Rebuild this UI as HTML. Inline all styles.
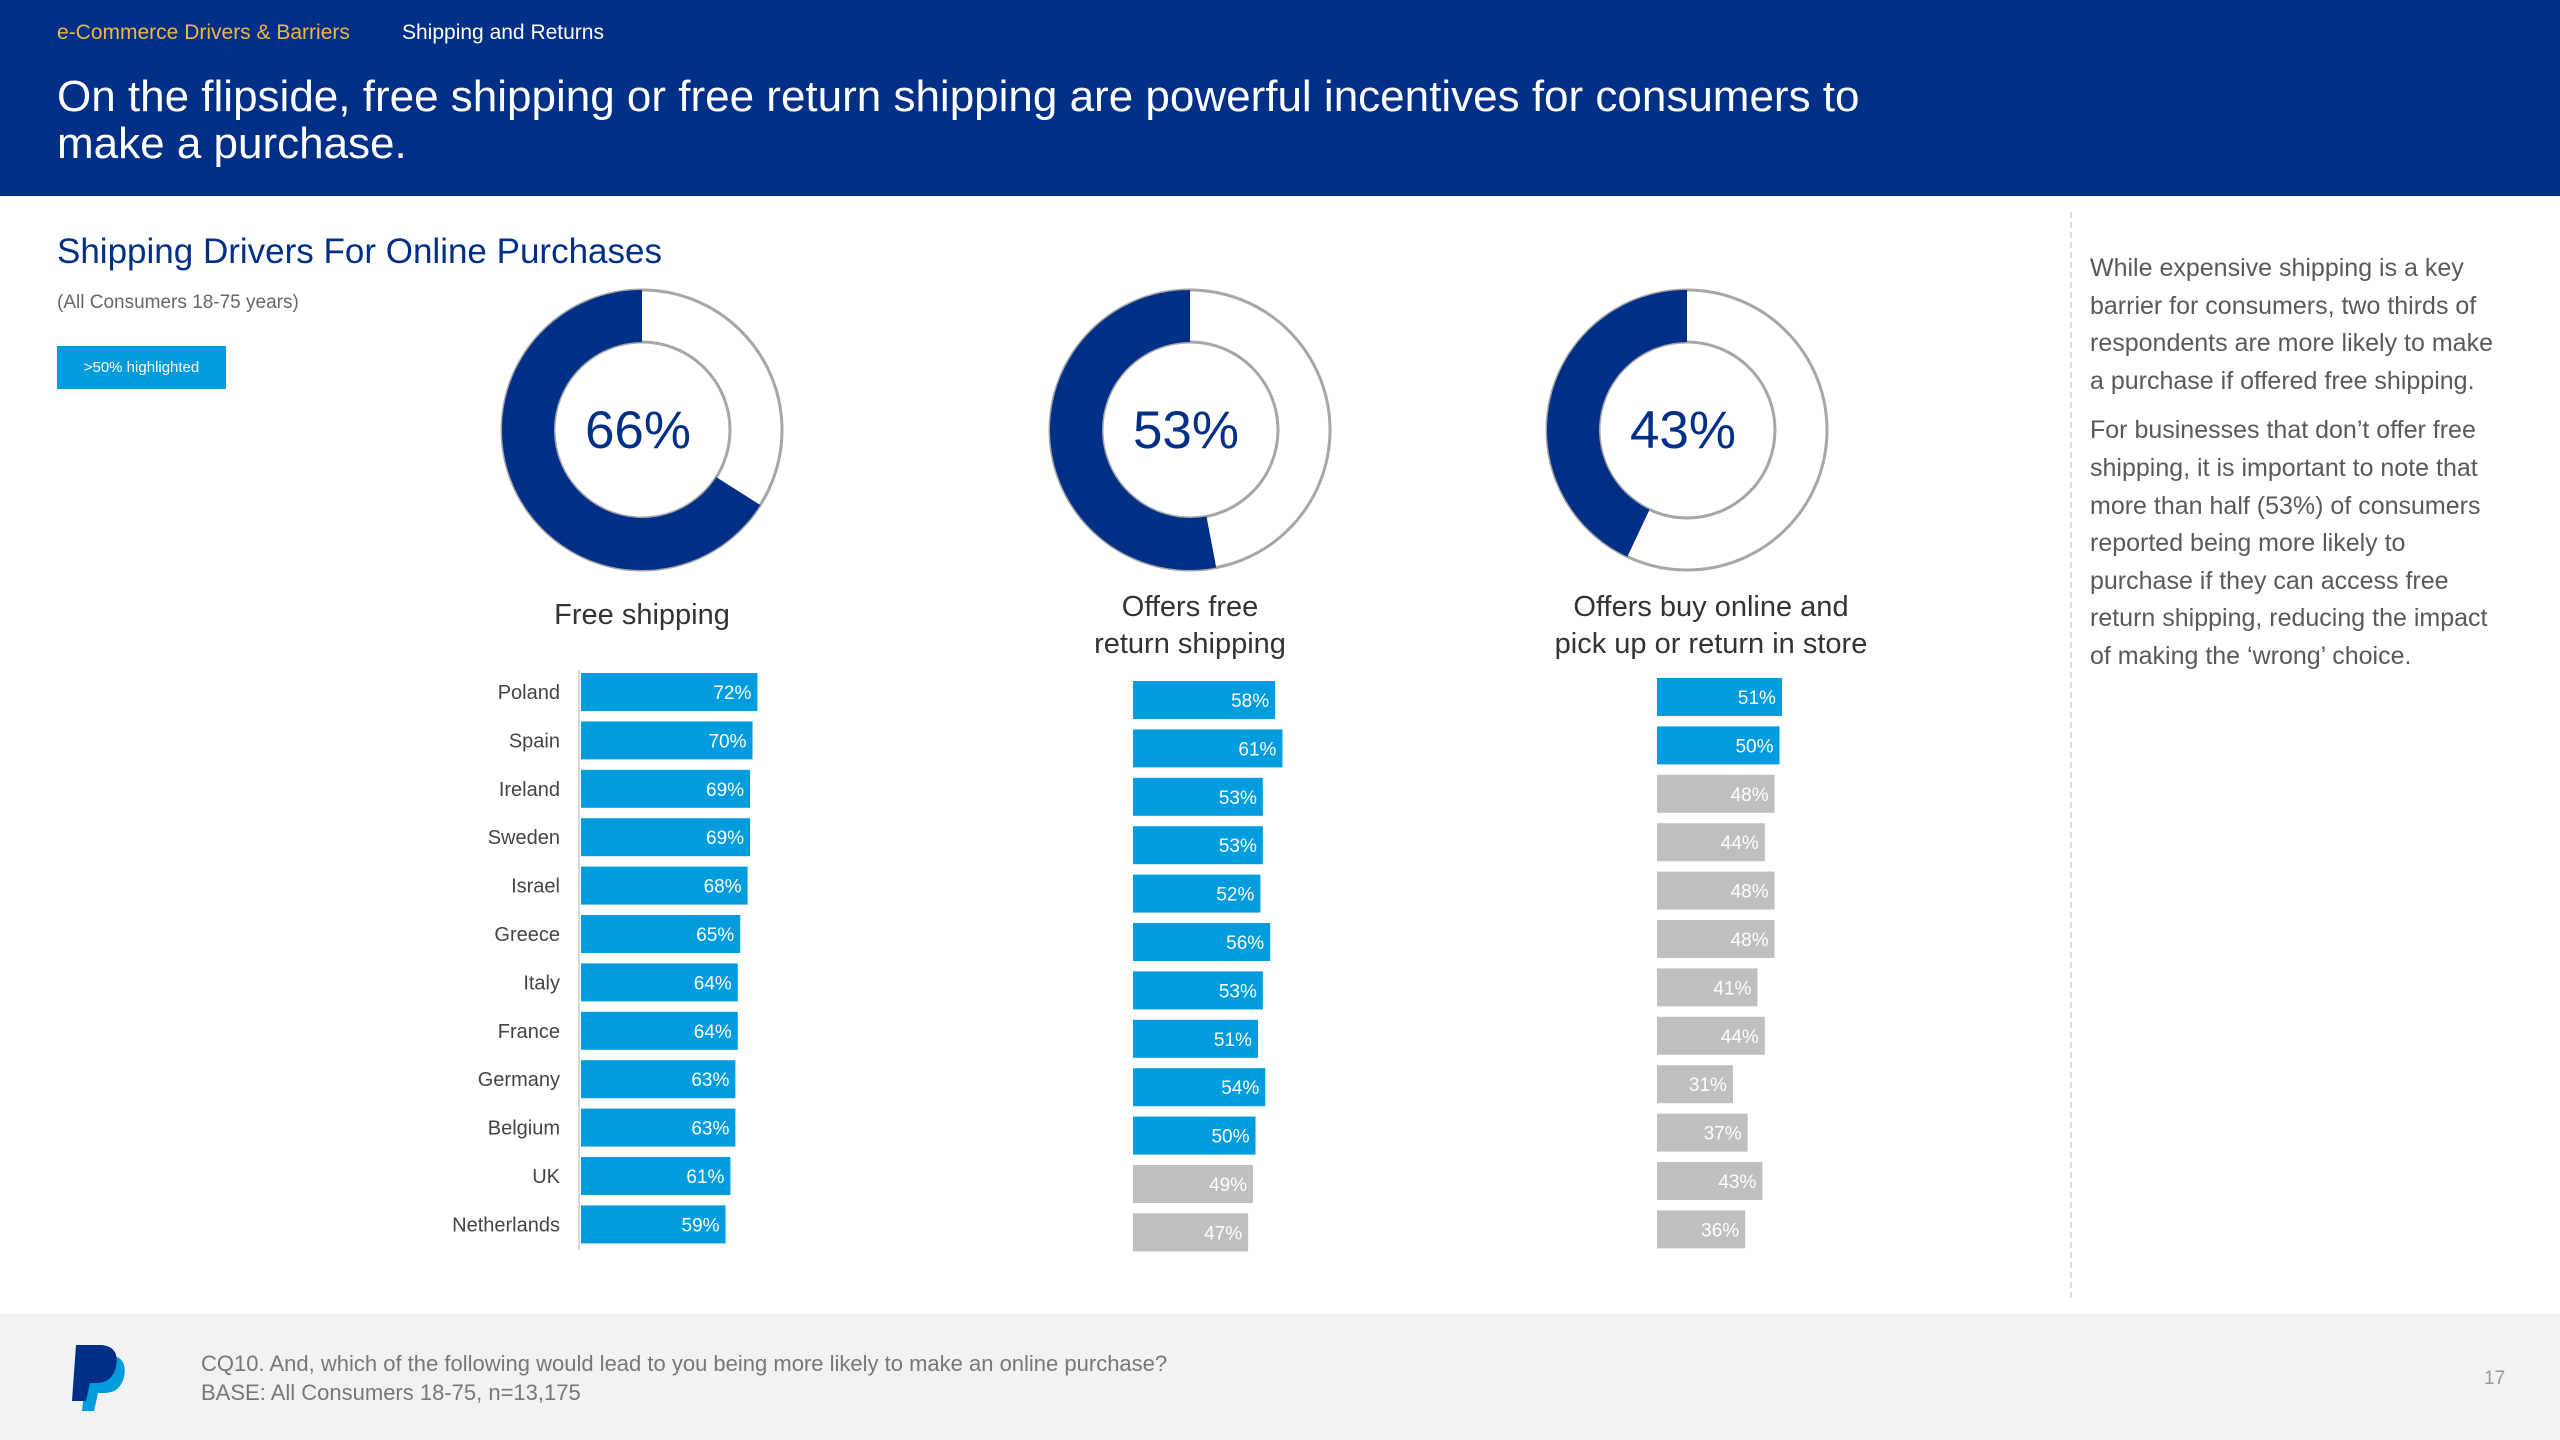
<!DOCTYPE html>
<html><head><meta charset="utf-8">
<style>
body{margin:0;width:2560px;height:1440px;position:relative;overflow:hidden;background:#fff;font-family:"Liberation Sans",sans-serif;}
.abs{position:absolute;}
</style></head>
<body>
<div class="abs" style="left:0;top:0;width:2560px;height:196px;background:#002f87;"></div>
<div class="abs" style="left:57px;top:21px;font-size:21px;color:#f0b840;">e-Commerce Drivers &amp; Barriers</div>
<div class="abs" style="left:402px;top:21px;font-size:21px;color:#fff;">Shipping and Returns</div>
<div class="abs" style="left:57px;top:73px;font-size:44px;line-height:47px;color:#fff;width:2000px;">On the flipside, free shipping or free return shipping are powerful incentives for consumers to<br>make a purchase.</div>
<div class="abs" style="left:57px;top:232px;font-size:35px;color:#002f87;">Shipping Drivers For Online Purchases</div>
<div class="abs" style="left:57px;top:292px;font-size:19px;color:#666;">(All Consumers 18-75 years)</div>
<div class="abs" style="left:57px;top:346px;width:169px;height:43px;background:#009cde;color:#fff;font-size:15px;line-height:43px;text-align:center;">&gt;50% highlighted</div>

<svg class="abs" style="left:0;top:0" width="2560" height="1440" id="svg"></svg>

<div class="abs" style="left:2070px;top:212px;height:1086px;border-left:2px dashed #ddd;"></div>
<div class="abs" style="left:2090px;top:250px;font-size:25px;line-height:37.6px;color:#595959;width:460px;">
<p style="margin:0 0 12px 0">While expensive shipping is a key<br>barrier for consumers, two thirds of<br>respondents are more likely to make<br>a purchase if offered free shipping.</p>
<p style="margin:0">For businesses that don’t offer free<br>shipping, it is important to note that<br>more than half (53%) of consumers<br>reported being more likely to<br>purchase if they can access free<br>return shipping, reducing the impact<br>of making the ‘wrong’ choice.</p>
</div>

<div class="abs" style="left:0;top:1314px;width:2560px;height:126px;background:#f2f2f2;"></div>
<svg class="abs" style="left:70px;top:1345px" width="62" height="68" viewBox="0 0 62 68">
<path d="M18 10 L40 10 Q58 12 54 32 Q50 48 34 48 L28 48 L24 66 L12 66 Z" fill="#009cde"/>
<path d="M6 0 L32 0 Q50 2 46 22 Q42 38 26 38 L20 38 L16 56 L2 56 Z" fill="#002f87"/>
</svg>
<div class="abs" style="left:201px;top:1349px;font-size:22px;line-height:29px;color:#777;">CQ10. And, which of the following would lead to you being more likely to make an online purchase?<br>BASE: All Consumers 18-75, n=13,175</div>
<div class="abs" style="left:2484px;top:1368px;font-size:19px;color:#999;">17</div>

<script>
const countries = ["Poland","Spain","Ireland","Sweden","Israel","Greece","Italy","France","Germany","Belgium","UK","Netherlands"];
const freeShipping = [72,70,69,69,68,65,64,64,63,63,61,59];
const freeReturn = [58,61,53,53,52,56,53,51,54,50,49,47];
const bopis = [51,50,48,44,48,48,41,44,31,37,43,36];
const totals = [66,53,43];
const donutLabels = [["Free shipping"],["Offers free","return shipping"],["Offers buy online and","pick up or return in store"]];

const NS="http://www.w3.org/2000/svg";
const svg=document.getElementById('svg');
function el(tag,attrs,parent){const e=document.createElementNS(NS,tag);for(const k in attrs)e.setAttribute(k,attrs[k]);(parent||svg).appendChild(e);return e;}
const pxPerPct=2.45;
const xScale=(v)=>v*pxPerPct;
const rowY=(i,y0)=>y0+i*48.4;

const donutCx=[642,1190,1687], donutCy=430, R=140, r=88;
const labelCx=[642,1190,1711];
totals.forEach((t,k)=>{
  const g=el('g',{});
  
  
  const cx=donutCx[k];
  el('circle',{cx:cx,cy:donutCy,r:R,fill:'none',stroke:'#a6a6a6','stroke-width':3},g);
  el('circle',{cx:cx,cy:donutCy,r:r,fill:'none',stroke:'#a6a6a6','stroke-width':3},g);
  const a=t/100*2*Math.PI;
  const large=t>50?1:0;
  const ox=cx-R*Math.sin(a), oy=donutCy-R*Math.cos(a);
  const ix=cx-r*Math.sin(a), iy=donutCy-r*Math.cos(a);
  const p=el('path',{d:`M${cx} ${donutCy-R} A${R} ${R} 0 ${large} 0 ${ox} ${oy} L${ix} ${iy} A${r} ${r} 0 ${large} 1 ${cx} ${donutCy-r} Z`,fill:'#002f87'},g);
  
  
  const tx=el('text',{x:cx-4,y:donutCy+18,'text-anchor':'middle','font-size':53,fill:'#002f87'},g);
  tx.textContent=t+'%';
  
  
  const lines=donutLabels[k];
  const baseY = lines.length===1?624:616;
  lines.forEach((ln,j)=>{
    const lt=el('text',{x:labelCx[k],y:baseY+j*37,'text-anchor':'middle','font-size':29,fill:'#333'},g);
    lt.textContent=ln;
    
    
  });
});

el('line',{x1:579,y1:670,x2:579,y2:1250,stroke:'#d9d9d9','stroke-width':2});
countries.forEach((c,i)=>{
  const t=el('text',{x:560,y:rowY(i,692)+7,'text-anchor':'end','font-size':20,fill:'#444'});
  t.textContent=c;
  
  
});

const series=[freeShipping,freeReturn,bopis];
const startX=[581,1133,1657], y0s=[692,700,697];
series.forEach((vals,k)=>{
  vals.forEach((v,i)=>{
    const cy=rowY(i,y0s[k]);
    const w=xScale(v);
    const b=el('rect',{x:startX[k],y:cy-19,width:w,height:38,fill:v>=50?'#009cde':'#bfbfbf'});
    
    
    const t=el('text',{x:startX[k]+w-6,y:cy+7,'text-anchor':'end','font-size':19,fill:'#fff'});
    t.textContent=v+'%';
    
    
  });
});
</script>
</body></html>
